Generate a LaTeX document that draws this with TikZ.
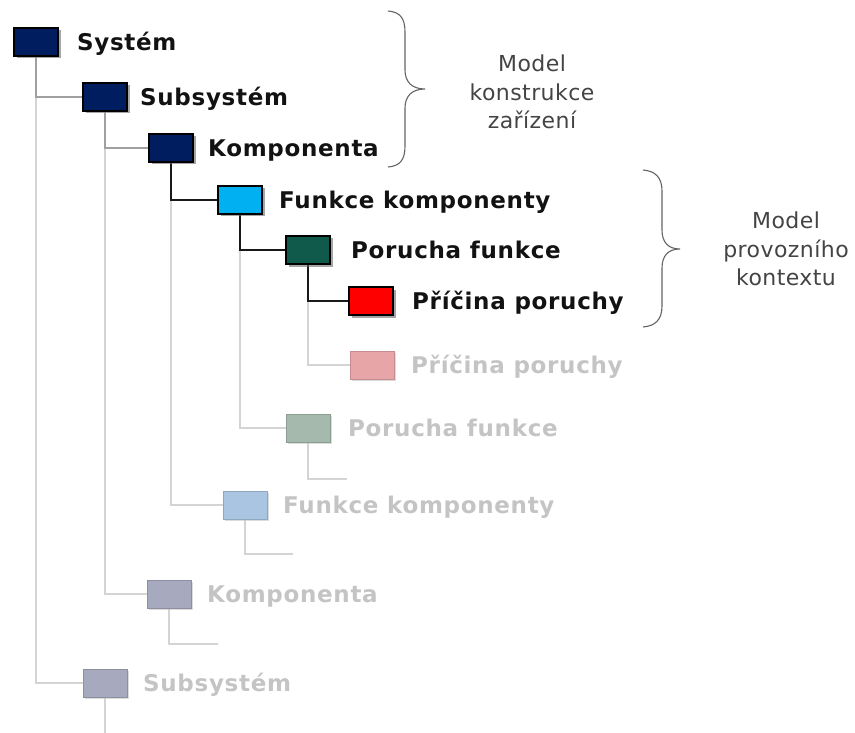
\documentclass[tikz,border=0pt]{standalone}
\usepackage{fontspec}
\setmainfont{DejaVu Sans}
\newfontfamily\labelfont[LetterSpace=3.0]{DejaVu Sans Bold}
\newfontfamily\notefont[LetterSpace=2.0]{DejaVu Sans}
\usetikzlibrary{shadows}

\definecolor{navy}{RGB}{0,30,95}
\definecolor{cyanbox}{RGB}{0,176,240}
\definecolor{greenbox}{RGB}{15,90,74}
\definecolor{redbox}{RGB}{255,0,0}
\definecolor{fpink}{RGB}{232,165,168}
\definecolor{fgreen}{RGB}{165,185,173}
\definecolor{fblue}{RGB}{169,197,226}
\definecolor{fnavy}{RGB}{167,169,191}
\definecolor{ftext}{RGB}{196,196,196}
\definecolor{midline}{RGB}{160,160,160}
\definecolor{lightline}{RGB}{212,212,212}
\definecolor{bracegray}{RGB}{100,100,100}
\definecolor{notegray}{RGB}{68,68,68}

\begin{document}
\begin{tikzpicture}[x=1pt,y=-1pt,
  box/.style={draw=black, line width=1.8pt, minimum width=44pt, minimum height=28pt,
    inner sep=0pt, drop shadow={shadow xshift=2.5pt, shadow yshift=-2.5pt, opacity=0.45}},
  fbox/.style={draw=#1!85!black, fill=#1, line width=0.8pt, minimum width=44pt, minimum height=28pt,
    inner sep=0pt, drop shadow={shadow xshift=2pt, shadow yshift=-2pt, opacity=0.15}},
  lbl/.style={anchor=west, inner sep=0pt, text height=16.5pt, text depth=0pt,
    font=\fontsize{23}{26}\selectfont\labelfont, text=black!93},
  flbl/.style={lbl, text=ftext},
  note/.style={align=center, inner sep=0pt, text=notegray,
    font=\fontsize{22}{28.5}\selectfont\notefont},
  dark/.style={draw=black!90, line width=1.3pt},
  mid/.style={draw=midline, line width=1.3pt},
  light/.style={draw=lightline, line width=1.3pt},
  brace/.style={draw=bracegray, line width=1.1pt}]

\useasboundingbox (0,0) rectangle (855,733);

% faded branch boxes
\node[fbox=fpink]  (pp2)   at (372,365) {};
\node[fbox=fgreen] (pf2)   at (308,428) {};
\node[fbox=fblue]  (fk2)   at (245,505) {};
\node[fbox=fnavy]  (komp2) at (169,594) {};
\node[fbox=fnavy]  (sub2)  at (105,683) {};
\coordinate (pf2end)   at (347,479);
\coordinate (fk2end)   at (293,554);
\coordinate (komp2end) at (218,644);
\coordinate (sub2end)  at (105,733);

% active branch boxes
\node[box, fill=navy]     (sys)  at (36,42)  {};
\node[box, fill=navy]     (sub)  at (105,97) {};
\node[box, fill=navy]     (komp) at (171,148) {};
\node[box, fill=cyanbox]  (fk)   at (240,200) {};
\node[box, fill=greenbox] (pf)   at (308,250) {};
\node[box, fill=redbox]   (pp)   at (371,301) {};

% light connectors (drawn first)
\path[light] (sys.south) |- (sub2.west);
\path[light] (sub.south) |- (komp2.west);
\path[light] (komp.south) |- (fk2.west);
\path[light] (fk.south) |- (pf2.west);
\path[light] (pf.south) |- (pp2.west);
\path[light] (pf2.south) |- (pf2end);
\path[light] (fk2.south) |- (fk2end);
\path[light] (komp2.south) |- (komp2end);
\path[light] (sub2.south) -- (sub2end);

% active connectors
\path[mid]  (sys.south) |- (sub.west);
\path[mid]  (sub.south) |- (komp.west);
\path[dark] (komp.south) |- (fk.west);
\path[dark] (fk.south) |- (pf.west);
\path[dark] (pf.south) |- (pp.west);

% boxes again, on top of the connectors
\node[box, fill=navy]     at (sys) {};
\node[box, fill=navy]     at (sub) {};
\node[box, fill=navy]     at (komp) {};
\node[box, fill=cyanbox]  at (fk) {};
\node[box, fill=greenbox] at (pf) {};
\node[box, fill=redbox]   at (pp) {};
\node[fbox=fpink]  at (pp2) {};
\node[fbox=fgreen] at (pf2) {};
\node[fbox=fblue]  at (fk2) {};
\node[fbox=fnavy]  at (komp2) {};
\node[fbox=fnavy]  at (sub2) {};

% labels
\node[lbl] (sysL)  at (77,42)   {Systém};
\node[lbl] (subL)  at (140,97)  {Subsystém};
\node[lbl] (kompL) at (208,148) {Komponenta};
\node[lbl] (fkL)   at (279,200) {Funkce komponenty};
\node[lbl] (pfL)   at (351,250) {Porucha funkce};
\node[lbl] (ppL)   at (412,301) {Příčina poruchy};

\node[flbl] (pp2L)   at (411,365) {Příčina poruchy};
\node[flbl] (pf2L)   at (348,428) {Porucha funkce};
\node[flbl] (fk2L)   at (283,505) {Funkce komponenty};
\node[flbl] (komp2L) at (207,594) {Komponenta};
\node[flbl] (sub2L)  at (143,683) {Subsystém};

% braces
\path[brace] (388,11) .. controls (400,12) and (405,18) .. (405,32) -- (405,70)
  .. controls (405,82) and (412,89) .. (425,89)
  .. controls (412,89) and (405,96) .. (405,108) -- (405,146)
  .. controls (405,160) and (400,166) .. (388,167);
\path[brace] (643,170) .. controls (655,171) and (662,177) .. (662,191) -- (662,230)
  .. controls (662,242) and (668,249) .. (680,249)
  .. controls (668,249) and (662,256) .. (662,268) -- (662,306)
  .. controls (662,320) and (655,326) .. (643,327);

\node[note] (noteA) at (532,92)  {Model\\konstrukce\\zařízení};
\node[note] (noteB) at (786,249) {Model\\provozního\\kontextu};
\end{tikzpicture}
\end{document}
